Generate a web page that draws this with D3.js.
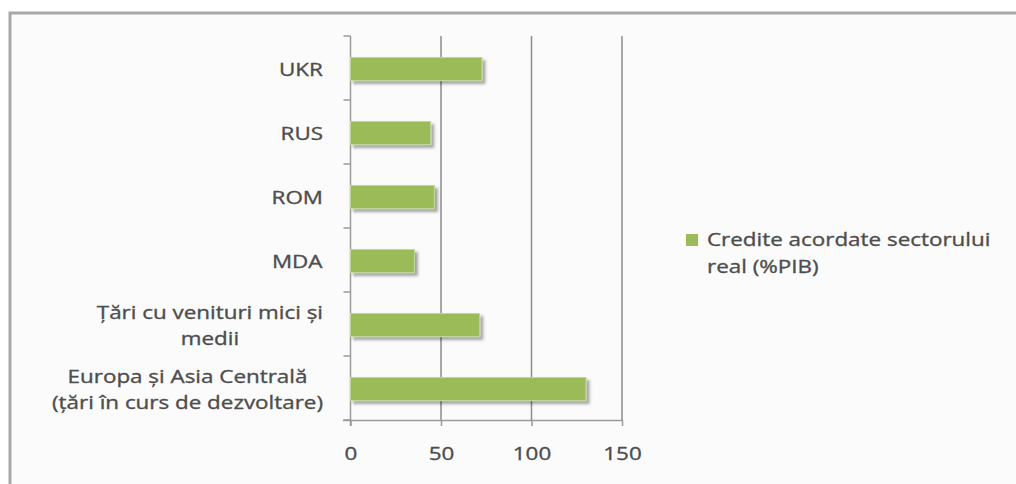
<!DOCTYPE html>
<html>
<head>
<meta charset="utf-8">
<script src="https://cdn.jsdelivr.net/npm/d3@7"></script>
<style>
  body { margin: 0; background: #fff; }
  text { font-family: "Open Sans", sans-serif; fill: #4d4d4d; stroke: #4d4d4d; stroke-width: 0.35px; }
</style>
</head>
<body>
<svg id="chart" width="1016" height="484"></svg>
<script>
// data
var categories = [
  ["UKR"],
  ["RUS"],
  ["ROM"],
  ["MDA"],
  ["Țări cu venituri mici și", "medii"],
  ["Europa și Asia Centrală", "(țări în curs de dezvoltare)"]
]
var values = [72.6, 44.3, 46.3, 35.3, 71.4, 130.1]
var xTicks = [0, 50, 100, 150]
var seriesName = ["Credite acordate sectorului", "real (%PIB)"]

var green = "#9bbb59"
var stretch = 1.18   // text in the picture is wider than the font
var fontSize = 19

var svg = d3.select("#chart")

// chart background + border
svg.append("rect")
  .attr("x", 10).attr("y", 13)
  .attr("width", 1030).attr("height", 500)
  .attr("fill", "#fbfbfb")
  .attr("stroke", "#a8a8a8")
  .attr("stroke-width", 3)

var defs = svg.append("defs")
var f = defs.append("filter").attr("id", "shadow")
  .attr("x", "-10%").attr("y", "-30%").attr("width", "130%").attr("height", "180%")
f.append("feDropShadow")
  .attr("dx", 3).attr("dy", 3).attr("stdDeviation", 1.8)
  .attr("flood-color", "#000").attr("flood-opacity", 0.35)

// ---------------------------//
//       AXIS  AND SCALE      //
// ---------------------------//
var x = d3.scaleLinear().domain([0, 150]).range([350.5, 622])
var y = d3.scaleBand()
  .domain(d3.range(categories.length))
  .range([36, 420])
  .paddingInner(0.64)
  .paddingOuter(0.32)

// gridlines
svg.append("g")
  .selectAll("line")
  .data(xTicks.slice(1))
  .enter()
  .append("line")
    .attr("x1", function(d){ return x(d) })
    .attr("x2", function(d){ return x(d) })
    .attr("y1", 36)
    .attr("y2", 420)
    .attr("stroke", "#8c8c8c")
    .attr("stroke-width", 1.5)

// x axis
var xAxis = svg.append("g")
  .attr("transform", "translate(0,420)")
  .call(d3.axisBottom(x).tickValues(xTicks).tickSize(6).tickSizeOuter(0))
xAxis.select(".domain").attr("stroke", "#9a9a9a").attr("stroke-width", 1.5)
  .attr("d", "M343,0.5H" + x(150))
xAxis.selectAll(".tick line").attr("stroke", "#9a9a9a").attr("stroke-width", 1.5)
xAxis.selectAll(".tick text").remove()
xAxis.selectAll(".tick")
  .append("text")
    .attr("transform", "translate(0,40) scale(" + stretch + ",1)")
    .attr("text-anchor", "middle")
    .style("font-size", fontSize + "px")
    .text(function(d){ return d })

// y axis line + ticks
var step = y.step()
var yAxis = svg.append("g")
yAxis.append("line")
  .attr("x1", x(0)).attr("x2", x(0))
  .attr("y1", 36).attr("y2", 426)
  .attr("stroke", "#9a9a9a").attr("stroke-width", 1.5)
yAxis.selectAll("tk")
  .data(d3.range(categories.length + 1))
  .enter()
  .append("line")
    .attr("x1", x(0) - 7).attr("x2", x(0))
    .attr("y1", function(d){ return 36 + d * step })
    .attr("y2", function(d){ return 36 + d * step })
    .attr("stroke", "#9a9a9a").attr("stroke-width", 1.5)

// ---------------------------//
//       BARS                 //
// ---------------------------//
svg.append("g")
  .selectAll("rect")
  .data(values)
  .enter()
  .append("rect")
    .attr("x", x(0))
    .attr("y", function(d, i){ return y(i) + 1 })
    .attr("width", function(d){ return x(d) - x(0) })
    .attr("height", y.bandwidth())
    .attr("fill", green)
    .attr("stroke", "#c3d69b")
    .attr("stroke-width", 1)
    .attr("filter", "url(#shadow)")

// category labels (centered lines, block right aligned)
var lineH = 26
var labels = svg.append("g")
categories.forEach(function(lines, i){
  var cy = y(i) + y.bandwidth() / 2 + 1
  var g = labels.append("g")
    .attr("transform", "translate(323," + cy + ") scale(" + stretch + ",1)")
  var t = g.append("text")
    .attr("text-anchor", "middle")
    .style("font-size", fontSize + "px")
  lines.forEach(function(l, j){
    t.append("tspan")
      .attr("x", 0)
      .attr("y", lines.length > 1 ? (j - 0.5) * lineH + 7 : 7)
      .text(l)
  })
  // shift block so its right edge sits at 323
  var w = t.node().getBBox().width
  t.attr("transform", "translate(" + (-w / 2) + ",0)")
})

// ---------------------------//
//       LEGEND               //
// ---------------------------//
svg.append("rect")
  .attr("x", 686).attr("y", 234)
  .attr("width", 12).attr("height", 12)
  .attr("fill", green)
var lg = svg.append("g")
  .attr("transform", "translate(707,246) scale(" + stretch + ",1)")
lg.selectAll("text")
  .data(seriesName)
  .enter()
  .append("text")
    .attr("x", 0)
    .attr("y", function(d, i){ return i * 27 })
    .style("font-size", fontSize + "px")
    .text(function(d){ return d })
</script>
</body>
</html>
